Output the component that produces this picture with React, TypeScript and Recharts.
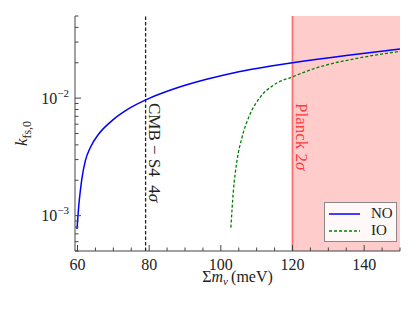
import React from 'react';
import { LineChart, Line, XAxis, YAxis, ReferenceLine, ReferenceArea, Legend } from 'recharts';

// normal ordering (NO): sum of masses (meV) vs k_fs,0
const noMass = [59.86, 60.34, 60.78, 61.26, 62.18, 63.58, 65.92, 69.64, 74.3, 79.4, 87, 96, 105, 114, 120, 135, 150];
const noK = [7.7e-4, 1.2e-3, 1.62e-3, 2.1e-3, 2.92e-3, 3.8e-3, 4.95e-3, 6.44e-3, 8.13e-3, 9.77e-3, 1.2e-2, 1.445e-2, 1.68e-2, 1.875e-2, 2.0e-2, 2.31e-2, 2.62e-2];

// inverted ordering (IO)
const ioMass = [102.8, 103.5, 104.5, 105.9, 108.2, 111.0, 114.7, 120.3, 127.7, 138.0, 150];
const ioK = [7.9e-4, 1.62e-3, 2.92e-3, 4.63e-3, 7.35e-3, 1.02e-2, 1.29e-2, 1.53e-2, 1.85e-2, 2.18e-2, 2.5e-2];

const xTicks = [60, 65, 70, 75, 80, 85, 90, 95, 100, 105, 110, 115, 120, 125, 130, 135, 140, 145, 150];
const yTicks = [5e-4, 6e-4, 7e-4, 8e-4, 9e-4, 1e-3, 2e-3, 3e-3, 4e-3, 5e-3, 6e-3, 7e-3, 8e-3, 9e-3, 1e-2, 2e-2, 3e-2, 4e-2, 5e-2];

const cmbLimit = 79;
const planckLimit = 120;

const noData = noMass.map((m, i) => ({ m, k: noK[i] }));
const ioData = ioMass.map((m, i) => ({ m, k: ioK[i] }));

const FONT = '"Liberation Serif", "DejaVu Serif", serif';
const AXIS = '#444';

const isMajorX = (v: number) => v % 20 === 0;
const isMajorY = (v: number) => Math.abs(Math.log10(v) - Math.round(Math.log10(v))) < 1e-6;

function makeTick(side: 'bottom' | 'top' | 'left' | 'right') {
  return (p: any) => {
    const { x, y, payload } = p;
    const v = payload.value;
    const major = side === 'bottom' || side === 'top' ? isMajorX(v) : isMajorY(v);
    const len = major ? 6 : 3.5;
    let line;
    if (side === 'bottom') line = <line x1={x} y1={y} x2={x} y2={y - len} stroke={AXIS} />;
    else if (side === 'top') line = <line x1={x} y1={y} x2={x} y2={y + len} stroke={AXIS} />;
    else if (side === 'left') line = <line x1={x} y1={y} x2={x + len} y2={y} stroke={AXIS} />;
    else line = <line x1={x} y1={y} x2={x - len} y2={y} stroke={AXIS} />;

    let label = null;
    if (major && side === 'bottom' && v < 150) {
      label = (
        <text x={x} y={y + 19} textAnchor="middle" fontSize={16} fontFamily={FONT} fill="#222">
          {v}
        </text>
      );
    }
    if (major && side === 'left') {
      const exp = Math.round(Math.log10(v));
      label = (
        <text x={x - 6} y={y + 5.5} textAnchor="end" fontSize={16} fontFamily={FONT} fill="#222">
          <tspan>10</tspan>
          <tspan fontSize={11} dy={-7}>{'\u2212' + Math.abs(exp)}</tspan>
        </text>
      );
    }
    return (
      <g>
        {line}
        {label}
      </g>
    );
  };
}

function YLabel({ viewBox }: any) {
  const cx = viewBox.x + 27;
  const cy = viewBox.y + viewBox.height / 2;
  return (
    <text x={cx} y={cy} transform={`rotate(-90 ${cx} ${cy})`} textAnchor="middle" fontFamily={FONT} fontSize={17} fill="#222">
      <tspan fontStyle="italic">k</tspan>
      <tspan fontSize={12} dy={4}>fs,0</tspan>
    </text>
  );
}

function XLabel({ viewBox }: any) {
  const cx = viewBox.x + viewBox.width / 2;
  const cy = viewBox.y + 31;
  return (
    <text x={cx} y={cy} textAnchor="middle" fontFamily={FONT} fontSize={16} fill="#222">
      <tspan>Σ</tspan>
      <tspan fontStyle="italic">m</tspan>
      <tspan fontSize={11} fontStyle="italic" dy={3}>ν</tspan>
      <tspan dy={-3}>{'\u2009(meV)'}</tspan>
    </text>
  );
}

function VLabel(text: string, color: string) {
  return ({ viewBox }: any) => {
    const tx = viewBox.x + 9;
    const ty = viewBox.y + 87;
    return (
      <text x={tx} y={ty} transform={`rotate(90 ${tx} ${ty})`} dominantBaseline="central" fontFamily={FONT} fontSize={17} fill={color}>
        <tspan>{text}</tspan>
        <tspan fontStyle="italic">σ</tspan>
      </text>
    );
  };
}

function LegendBox() {
  const rows = [
    { name: 'NO', color: '#0000ff', dash: undefined },
    { name: 'IO', color: '#008000', dash: '3 2' },
  ];
  return (
    <div style={{ width: 73, height: 40, border: '1px solid #888', background: 'rgba(255,255,255,0.85)', boxSizing: 'border-box', position: 'relative' }}>
      {rows.map((r, i) => (
        <div key={r.name} style={{ position: 'absolute', left: 0, top: 2 + i * 17, height: 17, display: 'flex', alignItems: 'center' }}>
          <svg width={46} height={17}>
            <line x1={4} y1={9} x2={35} y2={9} stroke={r.color} strokeWidth={1.5} strokeDasharray={r.dash} />
          </svg>
          <span style={{ fontFamily: FONT, fontSize: 15, color: '#222' }}>{r.name}</span>
        </div>
      ))}
    </div>
  );
}

export default function App() {
  const xDomain = [59.3, 150];
  const yDomain = [5e-4, 5e-2];
  return (
    <div style={{ position: 'absolute', left: 0, top: 0, background: '#fff' }}>
      <LineChart width={416} height={310} margin={{ top: 16, right: 16, bottom: 0, left: 0 }}>
        <XAxis dataKey="m" type="number" domain={xDomain} ticks={xTicks} interval={0} allowDataOverflow
          height={59} tickSize={0} tickMargin={0} tickLine={false} axisLine={{ stroke: AXIS }}
          tick={makeTick('bottom')} label={{ content: XLabel }} />
        <XAxis xAxisId="top" orientation="top" type="number" domain={xDomain} ticks={xTicks} interval={0} allowDataOverflow
          height={0} tickSize={0} tickMargin={0} tickLine={false} axisLine={{ stroke: AXIS }} tick={makeTick('top')} />
        <YAxis dataKey="k" scale="log" type="number" domain={yDomain} ticks={yTicks} interval={0} allowDataOverflow
          width={75} tickSize={0} tickMargin={0} tickLine={false} axisLine={{ stroke: AXIS }}
          tick={makeTick('left')} label={{ content: YLabel }} />
        <YAxis yAxisId="right" orientation="right" scale="log" type="number" domain={yDomain} ticks={yTicks} interval={0} allowDataOverflow
          width={0} tickSize={0} tickMargin={0} tickLine={false} axisLine={{ stroke: AXIS }} tick={makeTick('right')} />

        <ReferenceArea x1={planckLimit} x2={150} fill="#ffcccc" fillOpacity={1} stroke="none" />
        <ReferenceLine x={planckLimit} stroke="#ff6f6f" strokeWidth={1.8} label={{ content: VLabel('Planck 2', '#ff3a3a') }} />
        <ReferenceLine x={cmbLimit} stroke="#222" strokeWidth={1.3} strokeDasharray="3.5 2" label={{ content: VLabel('CMB \u2212 S4\u00a0\u00a04', '#222') }} />

        <Line data={noData} dataKey="k" type="monotone" stroke="#0000ff" strokeWidth={1.5} dot={false} isAnimationActive={false} name="NO" />
        <Line data={ioData} dataKey="k" type="monotone" stroke="#008000" strokeWidth={1.3} strokeDasharray="3 2" dot={false} isAnimationActive={false} name="IO" />

        <Legend layout="vertical" align="center" verticalAlign="middle" content={LegendBox}
          wrapperStyle={{ position: 'absolute', left: 324, top: 202, width: 73, height: 40 }} />
      </LineChart>
    </div>
  );
}
